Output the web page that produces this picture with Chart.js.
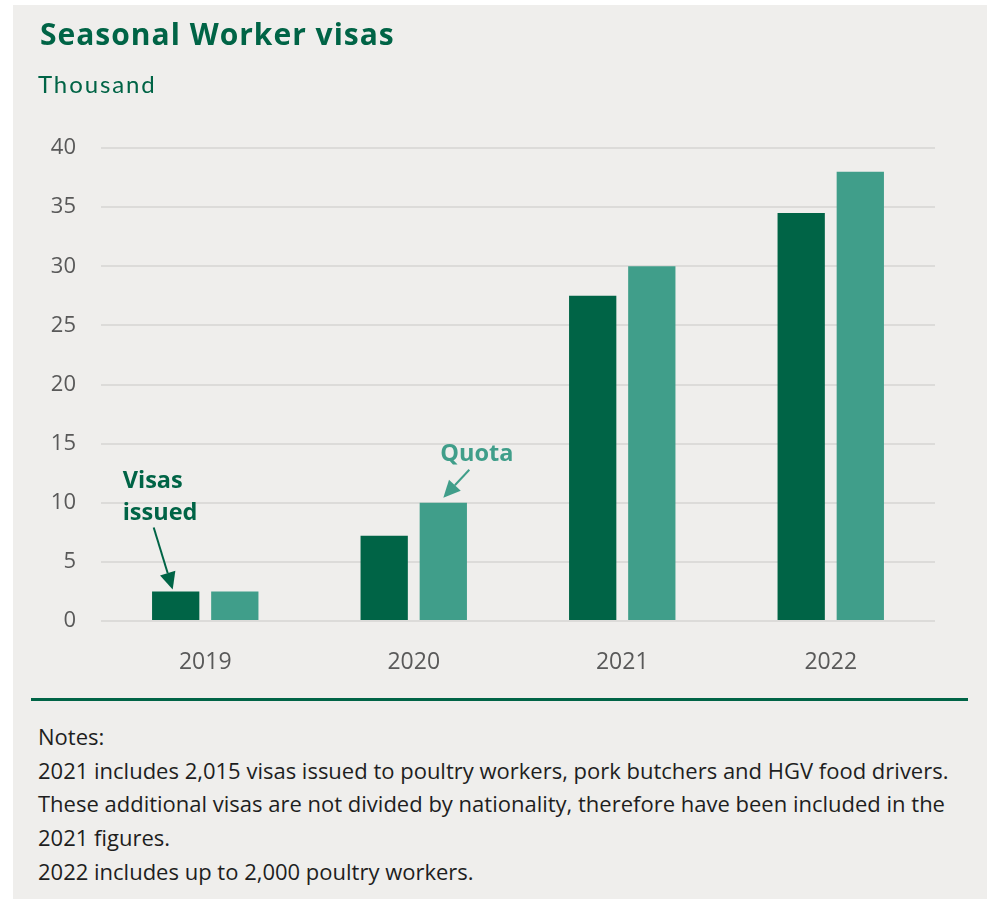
<!DOCTYPE html>
<html>
<head>
<meta charset="utf-8">
<script src="https://cdn.jsdelivr.net/npm/chart.js@4.4.1/dist/chart.umd.min.js"></script>
<style>
  html, body { margin: 0; padding: 0; background: #ffffff; }
  #panel {
    position: absolute; left: 13px; top: 5px; width: 974px; height: 894px;
    background: #efeeec; overflow: hidden;
  }
  #title {
    position: absolute; left: 27px; top: 8px;
    font: bold 30px "Open Sans", sans-serif; color: #006446; white-space: nowrap; letter-spacing: 1px;
  }
  #unit {
    position: absolute; left: 25px; top: 64px;
    font: 24px Lato, sans-serif; color: #006446; letter-spacing: 1.9px;
  }
  #wrap { position: absolute; left: -13px; top: -5px; width: 987px; height: 700px; }
  #rule { position: absolute; left: 18px; top: 693px; width: 937px; height: 3px; background: #006446; }
  #notes {
    position: absolute; left: 25px; top: 715px;
    font: 22px "Open Sans", sans-serif; color: #1e1e1e; line-height: 33.7px; white-space: nowrap;
  }
</style>
</head>
<body>
<div id="panel">
  <div id="wrap"><canvas id="chart"></canvas></div>
  <div id="title">Seasonal Worker visas</div>
  <div id="unit">Thousand</div>
  <div id="rule"></div>
  <div id="notes">
    Notes:<br>
    2021 includes 2,015 visas issued to poultry workers, pork butchers and HGV food drivers.<br>
    These additional visas are not divided by nationality, therefore have been included in the<br>
    2021 figures.<br>
    2022 includes up to 2,000 poultry workers.
  </div>
</div>
<script>
const years = ['2019', '2020', '2021', '2022'];
const visasIssued = [2.5, 7.2, 27.5, 34.5];
const quota = [2.5, 10, 30, 38];
const yTicks = [0, 5, 10, 15, 20, 25, 30, 35, 40];

const darkGreen = '#006446';
const teal = '#409e8a';

// labels + arrows pointing at the first visas bar and the 2020 quota bar
const annotations = {
  id: 'annotations',
  afterDatasetsDraw(chart) {
    const ctx = chart.ctx;
    const v = chart.getDatasetMeta(0).data[0];
    const q = chart.getDatasetMeta(1).data[1];

    function arrow(x1, y1, x2, y2, color) {
      const ang = Math.atan2(y2 - y1, x2 - x1);
      const head = 17, half = 8;
      const bx = x2 - head * Math.cos(ang), by = y2 - head * Math.sin(ang);
      ctx.save();
      ctx.strokeStyle = color;
      ctx.fillStyle = color;
      ctx.lineWidth = 2;
      ctx.beginPath();
      ctx.moveTo(x1, y1);
      ctx.lineTo(bx, by);
      ctx.stroke();
      ctx.beginPath();
      ctx.moveTo(x2, y2);
      ctx.lineTo(bx + half * Math.sin(ang), by - half * Math.cos(ang));
      ctx.lineTo(bx - half * Math.sin(ang), by + half * Math.cos(ang));
      ctx.closePath();
      ctx.fill();
      ctx.restore();
    }

    ctx.save();
    ctx.font = 'bold 23.5px "Open Sans", sans-serif';
    ctx.textAlign = 'left';
    ctx.textBaseline = 'alphabetic';
    ctx.fillStyle = darkGreen;
    ctx.fillText('Visas', v.x - 53, v.y - 103);
    ctx.fillText('issued', v.x - 53, v.y - 71);
    ctx.fillStyle = teal;
    ctx.fillText('Quota', q.x - 3, q.y - 42);
    ctx.restore();

    arrow(v.x - 22, v.y - 64, v.x - 3, v.y - 2, darkGreen);
    arrow(q.x + 26, q.y - 33, q.x, q.y - 5, teal);
  }
};

new Chart(document.getElementById('chart'), {
  type: 'bar',
  data: {
    labels: years,
    datasets: [
      { label: 'Visas issued', data: visasIssued, backgroundColor: darkGreen },
      { label: 'Quota', data: quota, backgroundColor: teal }
    ]
  },
  options: {
    responsive: true,
    maintainAspectRatio: false,
    animation: false,
    events: [],
    categoryPercentage: 0.567,
    barPercentage: 0.8,
    layout: { padding: { left: 0, right: 52, top: 148, bottom: 29 } },
    plugins: { legend: { display: false }, tooltip: { enabled: false } },
    scales: {
      x: {
        grid: { display: false },
        border: { display: false },
        ticks: { color: '#595959', font: { family: 'Open Sans', size: 23 }, padding: 20 },
        afterFit(scale) { scale.height = 50; }
      },
      y: {
        min: 0,
        max: 40,
        afterBuildTicks(scale) { scale.ticks = yTicks.map(v => ({ value: v })); },
        grid: { color: '#dcdbd9', lineWidth: 2, drawTicks: false },
        border: { display: false },
        ticks: { color: '#595959', font: { family: 'Open Sans', size: 22 }, padding: 25 },
        afterFit(scale) { scale.width = 101; }
      }
    }
  },
  plugins: [annotations]
});
</script>
</body>
</html>
